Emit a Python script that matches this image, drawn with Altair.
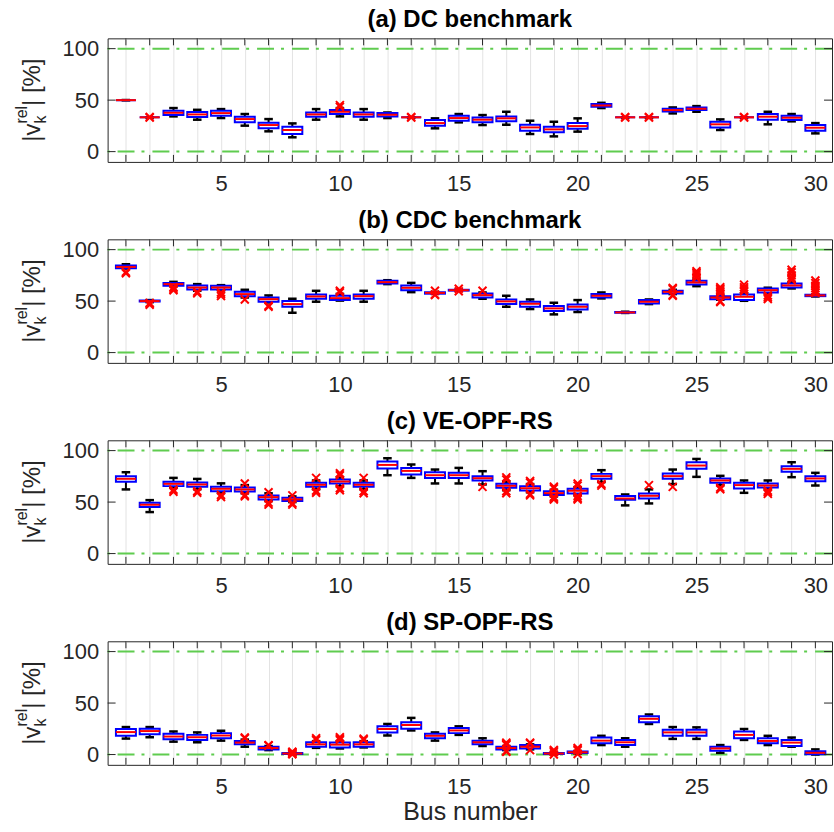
import altair as alt
import pandas as pd

BUSES = list(range(1, 31))
Y_TICKS = [0, 50, 100]
LIMITS = [0, 100]

# (a) DC benchmark: box statistics per bus
DC_Q1 = [50, 33.3, 35.5, 33.5, 34.8, 28.4, 22.6, 17.1, 33.9, 36.5, 33.9, 34.2, 33.3, 25.2, 30.0,
         28.4, 29.4, 20.3, 18.7, 22.3, 43.5, 33.3, 33.3, 38.9, 40.3, 23.5, 33.3, 31.0, 30.6, 20.3]
DC_MED = [50, 33.3, 37.7, 36.1, 37.4, 31.6, 25.8, 21.0, 36.1, 38.7, 36.1, 35.8, 33.3, 27.7, 32.6,
          31.0, 32.3, 23.5, 21.6, 24.8, 44.8, 33.3, 33.3, 40.3, 41.6, 26.5, 33.3, 33.9, 32.9, 23.2]
DC_Q3 = [50, 33.3, 39.7, 38.4, 39.7, 33.9, 28.1, 24.2, 38.1, 40.3, 38.1, 37.4, 33.3, 30.6, 34.8,
         33.2, 34.2, 26.1, 24.2, 27.7, 46.2, 33.3, 33.3, 41.6, 42.9, 29.0, 33.3, 36.5, 34.8, 25.8]
DC_LO = [50, 33.3, 34.2, 31.0, 32.6, 25.2, 19.7, 13.9, 31.0, 34.2, 31.0, 32.6, 33.3, 22.6, 28.4,
         25.8, 26.1, 17.1, 14.8, 19.4, 42.3, 33.3, 33.3, 37.1, 38.7, 21.0, 33.3, 26.5, 29.4, 17.7]
DC_HI = [50, 33.3, 42.3, 40.6, 41.3, 36.5, 31.6, 27.4, 41.3, 42.3, 41.3, 38.0, 33.3, 32.3, 36.5,
         35.5, 38.7, 30.0, 29.0, 32.3, 47.4, 33.3, 33.3, 42.9, 44.2, 31.3, 33.3, 38.7, 36.5, 27.7]
DC_OUT_BUS = [2, 2, 10, 10, 13, 13, 22, 22, 23, 23, 27, 27]
DC_OUT_VAL = [33.0, 33.7, 43.5, 45.2, 33.0, 33.7, 33.0, 33.7, 33.0, 33.7, 33.0, 33.7]

# (b) CDC benchmark
CDC_Q1 = [81.9, 49.5, 64.8, 61.3, 61.3, 54.8, 49.4, 44.5, 52.3, 51.0, 52.3, 67.1, 60.6, 57.2, 60.2,
          53.5, 47.1, 44.5, 40.3, 41.9, 53.5, 38.7, 47.7, 57.4, 66.1, 51.9, 51.0, 58.4, 63.2, 54.8]
CDC_MED = [83.2, 50.0, 66.5, 63.2, 63.2, 56.8, 51.9, 47.1, 54.5, 52.9, 54.8, 68.4, 62.9, 58.0, 60.6,
           55.8, 49.7, 47.4, 42.9, 44.5, 55.2, 39.0, 49.4, 59.0, 68.1, 53.5, 54.2, 60.6, 65.2, 55.5]
CDC_Q3 = [84.5, 50.5, 67.7, 65.2, 64.8, 59.0, 53.5, 50.0, 56.5, 55.2, 56.5, 69.7, 65.2, 58.6, 61.0,
          57.4, 51.6, 49.4, 45.2, 46.8, 56.8, 39.4, 51.0, 60.0, 69.7, 54.8, 56.5, 62.3, 67.1, 56.2]
CDC_LO = [81.6, 49.0, 64.5, 60.0, 60.5, 53.5, 48.7, 38.7, 49.4, 50.5, 49.4, 66.5, 58.7, 57.0, 60.0,
          52.3, 44.5, 42.3, 37.1, 39.4, 52.6, 38.5, 47.1, 56.8, 64.5, 51.3, 50.3, 57.7, 62.3, 54.5]
CDC_HI = [85.8, 51.0, 68.7, 66.5, 65.5, 61.0, 55.5, 52.3, 60.0, 57.0, 60.0, 70.3, 67.7, 59.0, 61.3,
          58.4, 55.2, 51.6, 48.4, 51.0, 58.4, 39.7, 51.6, 61.0, 71.0, 55.5, 57.4, 63.0, 68.4, 56.5]
CDC_OUT_BUS = [1, 1, 2, 2, 2, 3, 3, 3, 4, 4, 5, 5, 5, 6, 7, 7, 10, 10, 14, 14, 14, 15, 15, 16,
               24, 24, 24, 24, 25, 25, 25, 25, 25, 26, 26, 26, 26, 26, 26, 26,
               27, 27, 27, 27, 28, 28, 28, 29, 29, 29, 29, 29, 30, 30, 30, 30, 30, 30]
CDC_OUT_VAL = [78.4, 77.0, 46.5, 47.5, 48.2, 63.5, 62.0, 60.5, 59.0, 57.5, 58.5, 57.0, 55.0, 51.6,
               44.5, 45.5, 60.0, 58.5, 60.0, 56.5, 55.8, 62.0, 59.5, 60.0,
               62.9, 61.8, 56.0, 55.2, 72.5, 74.0, 76.0, 77.5, 79.0, 63.5, 62.0, 60.5, 59.0, 57.5,
               50.0, 49.0, 59.5, 61.5, 63.5, 66.0, 55.5, 53.5, 52.0, 70.5, 72.5, 75.0, 78.0, 80.5,
               58.0, 60.0, 62.5, 65.0, 67.5, 70.0]

# (c) VE-OPF-RS
VE_Q1 = [69.7, 45.2, 65.5, 64.8, 60.6, 60.3, 52.6, 51.0, 64.8, 68.1, 64.8, 82.6, 76.8, 73.5, 73.5,
         71.0, 63.9, 61.3, 56.8, 58.4, 72.6, 52.3, 53.5, 72.6, 82.3, 68.7, 63.2, 64.2, 79.4, 70.3]
VE_MED = [72.6, 47.4, 67.7, 67.1, 62.9, 62.3, 54.8, 52.6, 66.8, 70.0, 66.8, 86.1, 80.3, 76.1, 76.1,
          73.2, 65.8, 63.5, 58.7, 61.0, 75.2, 53.5, 56.1, 75.2, 85.5, 71.0, 66.5, 66.1, 82.3, 72.9]
VE_Q3 = [75.2, 49.4, 69.7, 69.0, 64.8, 64.2, 56.5, 54.2, 68.7, 71.9, 68.7, 89.4, 83.2, 79.0, 78.4,
         75.2, 67.7, 65.5, 60.6, 62.9, 77.4, 55.8, 58.4, 77.7, 88.7, 72.9, 68.7, 68.1, 84.8, 75.2]
VE_LO = [62.3, 40.3, 64.0, 62.5, 59.0, 58.5, 51.0, 50.0, 62.5, 65.5, 62.5, 76.1, 73.5, 68.1, 68.1,
         67.1, 61.5, 59.5, 55.5, 57.0, 69.5, 46.8, 48.7, 67.5, 74.5, 66.5, 59.0, 62.5, 74.2, 66.1]
VE_HI = [79.0, 51.9, 73.5, 72.5, 68.2, 66.5, 58.5, 55.5, 71.0, 74.0, 71.0, 92.6, 86.5, 81.6, 83.2,
         80.0, 70.0, 67.5, 62.0, 64.5, 81.0, 57.4, 62.3, 81.6, 91.9, 75.5, 71.0, 71.0, 88.7, 78.4]
VE_OUT_BUS = [3, 3, 4, 4, 5, 5, 6, 6, 6, 7, 7, 7, 8, 8, 8, 9, 9, 9, 10, 10, 10, 10, 11, 11, 11,
              16, 17, 17, 17, 17, 18, 18, 18, 18, 19, 19, 19, 19, 19, 20, 20, 20, 20, 20,
              21, 21, 23, 24, 26, 26, 28, 28, 28]
VE_OUT_VAL = [62.0, 60.0, 60.5, 59.0, 57.0, 55.0, 68.0, 57.0, 55.5, 59.5, 49.5, 47.5, 56.5, 49.0,
              47.5, 73.5, 61.0, 59.0, 76.0, 78.0, 63.5, 61.5, 73.5, 60.5, 58.5,
              64.8, 72.0, 74.0, 60.5, 58.5, 69.0, 70.5, 58.0, 56.5, 63.5, 65.0, 55.0, 53.5, 52.5,
              66.0, 68.0, 56.0, 54.0, 52.5, 67.5, 66.0, 66.5, 64.8, 64.0, 62.5, 61.0, 59.5, 58.0]

# (d) SP-OPF-RS
SP_Q1 = [18.2, 19.8, 14.9, 14.2, 15.8, 9.9, 5.0, 0.5, 7.6, 6.9, 7.6, 21.5, 25.1, 15.8, 20.8,
         9.9, 5.0, 5.9, 0.5, 1.5, 10.9, 9.2, 31.4, 18.2, 18.2, 3.6, 15.8, 10.9, 8.3, 0.3]
SP_MED = [21.8, 22.8, 17.5, 16.8, 18.5, 11.6, 6.3, 1.0, 9.9, 9.6, 9.9, 24.8, 28.7, 18.2, 23.4,
          11.9, 6.3, 7.6, 1.0, 2.2, 13.5, 11.9, 34.7, 21.5, 21.5, 5.9, 19.1, 13.2, 11.6, 1.7]
SP_Q3 = [24.8, 25.1, 20.1, 19.1, 20.8, 13.2, 7.6, 1.5, 11.9, 11.6, 11.9, 27.4, 31.4, 20.1, 25.7,
         13.5, 7.6, 9.2, 1.5, 3.0, 16.5, 14.2, 37.3, 24.1, 24.1, 7.6, 22.4, 15.8, 14.2, 3.3]
SP_LO = [15.5, 16.8, 12.5, 11.9, 13.5, 7.6, 4.3, 0.3, 6.5, 5.9, 6.9, 18.5, 23.4, 13.5, 19.1,
         8.3, 4.3, 5.0, 0.2, 1.0, 9.2, 7.6, 29.7, 15.2, 15.2, 1.7, 14.2, 9.2, 7.6, 0.0]
SP_HI = [26.7, 26.7, 22.4, 21.5, 23.1, 14.5, 8.3, 1.8, 13.0, 13.0, 13.0, 29.7, 35.6, 21.5, 27.4,
         15.8, 8.3, 9.9, 1.8, 3.5, 18.2, 15.8, 38.9, 26.7, 26.4, 9.2, 24.8, 18.2, 16.5, 5.0]
SP_OUT_BUS = [6, 6, 7, 7, 8, 8, 8, 8, 8, 9, 9, 10, 10, 10, 11, 11,
              17, 17, 17, 17, 17, 18, 18, 18, 19, 19, 19, 19, 20, 20, 20, 20]
SP_OUT_VAL = [15.8, 16.5, 9.2, 8.8, 0.2, 0.6, 1.6, 2.2, 2.8, 14.2, 15.8, 14.2, 15.5, 16.8, 14.2, 15.5,
              2.6, 3.5, 9.5, 10.5, 11.6, 4.3, 11.0, 11.6, 0.1, 2.4, 3.3, 4.5, 0.5, 4.2, 5.0, 6.3]

PANELS = [
    ("(a) DC benchmark", DC_Q1, DC_MED, DC_Q3, DC_LO, DC_HI, DC_OUT_BUS, DC_OUT_VAL),
    ("(b) CDC benchmark", CDC_Q1, CDC_MED, CDC_Q3, CDC_LO, CDC_HI, CDC_OUT_BUS, CDC_OUT_VAL),
    ("(c) VE-OPF-RS", VE_Q1, VE_MED, VE_Q3, VE_LO, VE_HI, VE_OUT_BUS, VE_OUT_VAL),
    ("(d) SP-OPF-RS", SP_Q1, SP_MED, SP_Q3, SP_LO, SP_HI, SP_OUT_BUS, SP_OUT_VAL),
]

W, H = 727, 124
FONT = "Liberation Sans"
INK = "#262626"
GREEN = "#5fcc4f"
X_MARK = "M-1,-1L1,1M-1,1L1,-1"


def label_piece(text, size, x, y):
    return alt.Chart(pd.DataFrame({"t": [text]})).mark_text(
        angle=270, align="left", baseline="alphabetic",
        fontSize=size, font=FONT, color=INK,
    ).encode(text="t:N", x=alt.value(x), y=alt.value(y))


def build_panel(title, q1, med, q3, lo, hi, out_bus, out_val, bottom):
    stats = pd.DataFrame({"bus": BUSES, "q1": q1, "med": med, "q3": q3, "lo": lo, "hi": hi})
    outl = pd.DataFrame({"bus": out_bus, "val": out_val})

    xs = alt.Scale(domain=[0.23, 30.7], nice=False, zero=False)
    ys = alt.Scale(domain=[-10, 110], nice=False, zero=False)

    xkw = dict(values=BUSES, labelExpr="datum.value % 5 === 0 ? datum.label : ''",
               grid=True, gridColor="#e3e3e3", gridWidth=1, ticks=False, domain=False,
               labelFontSize=22, labelFont=FONT, labelColor=INK, labelPadding=12,
               labelFlush=False, labelOverlap=False)
    if bottom:
        xkw.update(title="Bus number", titleFontSize=25, titleFont=FONT, titleColor=INK,
                   titleFontWeight="normal", titlePadding=2)
    else:
        xkw.update(title=None)
    xaxis = alt.Axis(**xkw)
    yaxis = alt.Axis(values=Y_TICKS, ticks=False, domain=False, grid=False,
                     labelFontSize=22, labelFont=FONT, labelColor=INK, labelPadding=9,
                     labelFlush=False, title=None)

    def X(f):
        return alt.X(f"{f}:Q", scale=xs, axis=xaxis)

    def Y(f):
        return alt.Y(f"{f}:Q", scale=ys, axis=yaxis)

    base = alt.Chart(stats).transform_calculate(
        bl="datum.bus - 0.42", br="datum.bus + 0.42",
        cl="datum.bus - 0.18", cr="datum.bus + 0.18",
    )

    limits = alt.Chart(pd.DataFrame({"lim": LIMITS})).mark_rule(
        color=GREEN, strokeWidth=2, strokeDash=[17, 8, 3, 7]
    ).encode(y=Y("lim"))

    whisk = base.mark_rule(color="black", strokeWidth=2).encode(x=X("bus"), y=Y("lo"), y2="hi:Q")
    cap_lo = base.mark_rule(color="black", strokeWidth=2.5).encode(x=X("cl"), x2="cr:Q", y=Y("lo"))
    cap_hi = base.mark_rule(color="black", strokeWidth=2.5).encode(x=X("cl"), x2="cr:Q", y=Y("hi"))
    box = base.mark_rect(fill="white", stroke="#0000ff", strokeWidth=2).encode(
        x=X("bl"), x2="br:Q", y=Y("q1"), y2="q3:Q")
    median = base.mark_rule(color="#ff0000", strokeWidth=2).encode(x=X("bl"), x2="br:Q", y=Y("med"))
    outliers = alt.Chart(outl).mark_point(
        shape=X_MARK, color="#ff0000", size=64, strokeWidth=2, filled=False, opacity=1
    ).encode(x=X("bus"), y=Y("val"))

    # inward tick marks on all four sides of the frame
    xt = alt.Chart(pd.DataFrame({"bus": BUSES}))
    top_ticks = xt.mark_rule(color=INK, strokeWidth=1).encode(x=X("bus"), y=alt.value(0), y2=alt.value(7))
    bot_ticks = xt.mark_rule(color=INK, strokeWidth=1).encode(x=X("bus"), y=alt.value(H - 7), y2=alt.value(H))
    yt = alt.Chart(pd.DataFrame({"v": Y_TICKS}))
    left_ticks = yt.mark_rule(color=INK, strokeWidth=1).encode(y=Y("v"), x=alt.value(0), x2=alt.value(8))
    right_ticks = yt.mark_rule(color=INK, strokeWidth=1).encode(y=Y("v"), x=alt.value(W - 8), x2=alt.value(W))

    # y-axis label |v_k^rel| [%] built from pieces (sub- and superscript)
    y0 = H / 2 + 41.8
    main_w = 0.76 * 24
    sup_w = 1.111 * 16
    ylabel = [
        label_piece("|v", 24, -68, y0),
        label_piece("rel", 16, -81, y0 - main_w),
        label_piece("k", 16, -62, y0 - main_w),
        label_piece("| [%]", 24, -68, y0 - main_w - sup_w),
    ]

    return alt.layer(
        limits, whisk, cap_lo, cap_hi, box, median, outliers,
        top_ticks, bot_ticks, left_ticks, right_ticks, *ylabel,
    ).properties(
        width=W, height=H,
        title=alt.TitleParams(text=title, fontSize=24, fontWeight="bold", font=FONT,
                              color="black", offset=6, anchor="middle", frame="group"),
    )


panels = [build_panel(*p, bottom=(i == len(PANELS) - 1)) for i, p in enumerate(PANELS)]

chart = alt.vconcat(*panels, spacing=11.7).properties(
    padding={"left": 13, "top": 5, "right": 0, "bottom": 2}
).configure_view(stroke=INK, strokeWidth=1)

chart.save("out.html", embed_options={"renderer": "svg", "actions": False})
